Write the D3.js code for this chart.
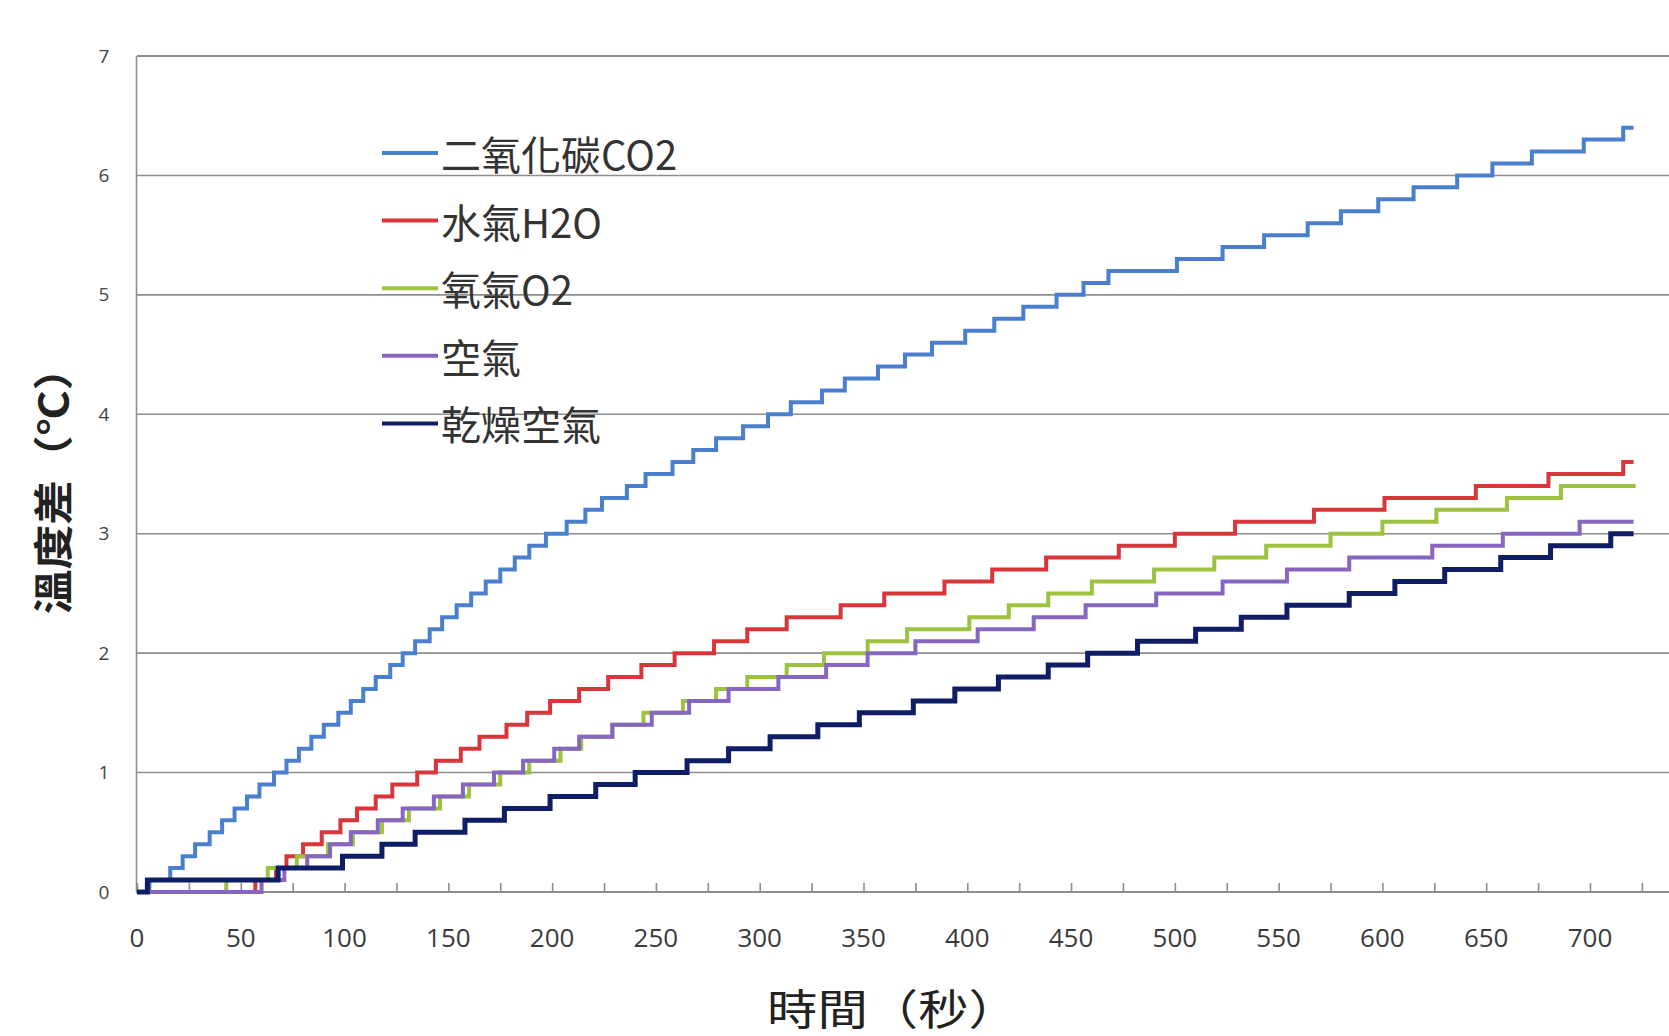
<!DOCTYPE html>
<html>
<head>
<meta charset="utf-8">
<script src="https://cdn.jsdelivr.net/npm/d3@7/dist/d3.min.js"></script>
<style>
  html, body { margin: 0; padding: 0; background: #fff; }
  svg { display: block; }
  text { font-family: "Noto Sans CJK TC", "Noto Sans", sans-serif; }
</style>
</head>
<body>
<svg id="chart" width="1669" height="1036"></svg>
<script>
// Temperature rise (°C) of five gases, logged as 0.1 °C steps.
// Each series: times (s) at which a new reading appears, and that reading.
const co2Times  = [0, 6, 16, 22, 28, 35, 41, 47, 53, 59, 66, 72, 78, 84, 90, 97, 103, 109, 115, 122, 128,
                   134, 141, 147, 154, 161, 168, 175, 182, 189, 197, 207, 216, 224, 236, 245, 258, 268, 279,
                   292, 304, 315, 330, 341, 357, 370, 383, 399, 413, 427, 443, 456, 468, 501, 523, 543, 564,
                   580, 598, 615, 636, 653, 672, 697, 716, 721];
const co2Values = [0, 0.1, 0.2, 0.3, 0.4, 0.5, 0.6, 0.7, 0.8, 0.9, 1.0, 1.1, 1.2, 1.3, 1.4, 1.5, 1.6, 1.7,
                   1.8, 1.9, 2.0, 2.1, 2.2, 2.3, 2.4, 2.5, 2.6, 2.7, 2.8, 2.9, 3.0, 3.1, 3.2, 3.3, 3.4, 3.5,
                   3.6, 3.7, 3.8, 3.9, 4.0, 4.1, 4.2, 4.3, 4.4, 4.5, 4.6, 4.7, 4.8, 4.9, 5.0, 5.1, 5.2, 5.3,
                   5.4, 5.5, 5.6, 5.7, 5.8, 5.9, 6.0, 6.1, 6.2, 6.3, 6.4, 6.4];

const h2oTimes  = [0, 57, 67, 72, 80, 89, 98, 106, 115, 123, 135, 144, 156, 165, 178, 188, 199, 213, 227,
                   243, 259, 278, 294, 313, 339, 360, 389, 412, 438, 473, 500, 529, 567, 601, 645, 680, 716, 721];
const h2oValues = [0, 0.1, 0.2, 0.3, 0.4, 0.5, 0.6, 0.7, 0.8, 0.9, 1.0, 1.1, 1.2, 1.3, 1.4, 1.5, 1.6, 1.7,
                   1.8, 1.9, 2.0, 2.1, 2.2, 2.3, 2.4, 2.5, 2.6, 2.7, 2.8, 2.9, 3.0, 3.1, 3.2, 3.3, 3.4, 3.5,
                   3.6, 3.6];

const o2Times   = [0, 43, 63, 77, 92, 104, 118, 131, 146, 160, 175, 189, 204, 214, 229, 244, 263, 279, 294,
                   313, 331, 352, 371, 401, 420, 439, 460, 490, 519, 544, 575, 600, 626, 660, 686, 722];
const o2Values  = [0, 0.1, 0.2, 0.3, 0.4, 0.5, 0.6, 0.7, 0.8, 0.9, 1.0, 1.1, 1.2, 1.3, 1.4, 1.5, 1.6, 1.7,
                   1.8, 1.9, 2.0, 2.1, 2.2, 2.3, 2.4, 2.5, 2.6, 2.7, 2.8, 2.9, 3.0, 3.1, 3.2, 3.3, 3.4, 3.4];

const airTimes  = [0, 60, 71, 82, 93, 103, 116, 128, 143, 157, 172, 186, 201, 213, 229, 248, 266, 285, 309,
                   332, 352, 375, 405, 432, 457, 491, 523, 554, 584, 624, 658, 695, 721];
const airValues = [0, 0.1, 0.2, 0.3, 0.4, 0.5, 0.6, 0.7, 0.8, 0.9, 1.0, 1.1, 1.2, 1.3, 1.4, 1.5, 1.6, 1.7,
                   1.8, 1.9, 2.0, 2.1, 2.2, 2.3, 2.4, 2.5, 2.6, 2.7, 2.8, 2.9, 3.0, 3.1, 3.1];

const dryTimes  = [0, 5, 68, 99, 118, 134, 158, 177, 199, 221, 240, 265, 285, 305, 328, 348, 374, 394, 415,
                   439, 458, 482, 510, 532, 554, 584, 606, 630, 657, 681, 710, 721];
const dryValues = [0, 0.1, 0.2, 0.3, 0.4, 0.5, 0.6, 0.7, 0.8, 0.9, 1.0, 1.1, 1.2, 1.3, 1.4, 1.5, 1.6, 1.7,
                   1.8, 1.9, 2.0, 2.1, 2.2, 2.3, 2.4, 2.5, 2.6, 2.7, 2.8, 2.9, 3.0, 3.0];

const seriesNames  = ["二氧化碳CO2", "水氣H2O", "氧氣O2", "空氣", "乾燥空氣"];
const seriesColors = ["#4a7fcf", "#d9363c", "#9cc23f", "#8666c0", "#0f1d66"];
const seriesWidths = [4, 4, 4, 4, 5];
const seriesTimes  = [co2Times, h2oTimes, o2Times, airTimes, dryTimes];
const seriesValues = [co2Values, h2oValues, o2Values, airValues, dryValues];

const yTicks     = [0, 1, 2, 3, 4, 5, 6, 7];
const xMinorStep = 25;
const xLabels    = [0, 50, 100, 150, 200, 250, 300, 350, 400, 450, 500, 550, 600, 650, 700];

const yTitle = "溫度差（℃）";
const xTitle = "時間（秒）";

// ---- layout ----
const svg = d3.select("#chart");
const plotLeft = 137, plotTop = 56, plotBottom = 892;

const x = d3.scaleLinear().domain([0, 740]).range([plotLeft, plotLeft + 740 * 2.0757]);
const y = d3.scaleLinear().domain([0, 7]).range([plotBottom, plotTop]);

// horizontal gridlines (the top one closes the frame)
svg.append("g")
  .selectAll("line")
  .data(yTicks.filter(d => d > 0))
  .join("line")
  .attr("x1", plotLeft).attr("x2", 1669)
  .attr("y1", d => y(d)).attr("y2", d => y(d))
  .attr("stroke", d => d === 7 ? "#6a6a6a" : "#8e8e8e")
  .attr("stroke-width", 1.6);

// left axis line
svg.append("line")
  .attr("x1", plotLeft - 0.5).attr("x2", plotLeft - 0.5)
  .attr("y1", plotTop).attr("y2", plotBottom)
  .attr("stroke", "#8e8e8e").attr("stroke-width", 1.6);

// y tick labels
const yAxis = d3.axisLeft(y).tickValues(yTicks).tickSize(0).tickPadding(0).tickFormat(d3.format("d"));
const gy = svg.append("g").attr("transform", `translate(${plotLeft - 33},0)`).call(yAxis);
gy.select(".domain").remove();
gy.selectAll("text")
  .attr("text-anchor", "middle")
  .attr("dx", 0)
  .style("font-family", "'Open Sans', 'Noto Sans', sans-serif")
  .style("font-size", "19px")
  .attr("fill", "#444");

// x axis: ticks every 25 s pointing into the plot, labels every 50 s
const minorTicks = d3.range(0, 726, xMinorStep);
const xAxis = d3.axisTop(x).tickValues(minorTicks).tickSize(9).tickFormat("");
const gx = svg.append("g").attr("transform", `translate(0,${plotBottom})`).call(xAxis);
gx.select(".domain").remove();
gx.selectAll(".tick line").attr("stroke", "#8e8e8e").attr("stroke-width", 1.6);
svg.append("line")
  .attr("x1", plotLeft - 1).attr("x2", 1669)
  .attr("y1", plotBottom).attr("y2", plotBottom)
  .attr("stroke", "#8e8e8e").attr("stroke-width", 1.8);

svg.append("g")
  .selectAll("text")
  .data(xLabels)
  .join("text")
  .attr("x", d => x(d))
  .attr("y", 947)
  .attr("text-anchor", "middle")
  .style("font-family", "'Open Sans', 'Noto Sans', sans-serif")
  .style("font-size", "26px")
  .attr("fill", "#3a3a3a")
  .text(d => d);

// axis titles
svg.append("text")
  .attr("transform", "translate(51,480) rotate(-90) scale(1.12,1)")
  .attr("text-anchor", "middle")
  .attr("dominant-baseline", "central")
  .style("font-size", "40px")
  .style("font-weight", "700")
  .attr("fill", "#222")
  .text(yTitle);

svg.append("text")
  .attr("transform", "translate(893,1006) scale(1.2,1)")
  .attr("text-anchor", "middle")
  .attr("dominant-baseline", "central")
  .style("font-size", "42px")
  .attr("fill", "#222")
  .text(xTitle);

// step lines
const line = d3.line()
  .x(d => x(d[0]))
  .y(d => y(d[1]))
  .curve(d3.curveStepAfter);

seriesNames.forEach((name, i) => {
  const pts = seriesTimes[i].map((t, j) => [t, seriesValues[i][j]]);
  svg.append("path")
    .datum(pts)
    .attr("fill", "none")
    .attr("stroke", seriesColors[i])
    .attr("stroke-width", seriesWidths[i])
    .attr("stroke-linejoin", "miter")
    .attr("d", line);
});

// legend
const legendX = 382, legendY0 = 153, legendGap = 67.6;
const lg = svg.append("g");
seriesNames.forEach((name, i) => {
  const ly = legendY0 + i * legendGap;
  lg.append("line")
    .attr("x1", legendX).attr("x2", legendX + 56)
    .attr("y1", ly).attr("y2", ly)
    .attr("stroke", seriesColors[i])
    .attr("stroke-width", 4);
  lg.append("text")
    .attr("x", legendX + 59)
    .attr("y", ly)
    .attr("dominant-baseline", "central")
    .style("font-size", "40px")
    .attr("fill", "#333")
    .text(name);
});
</script>
</body>
</html>
